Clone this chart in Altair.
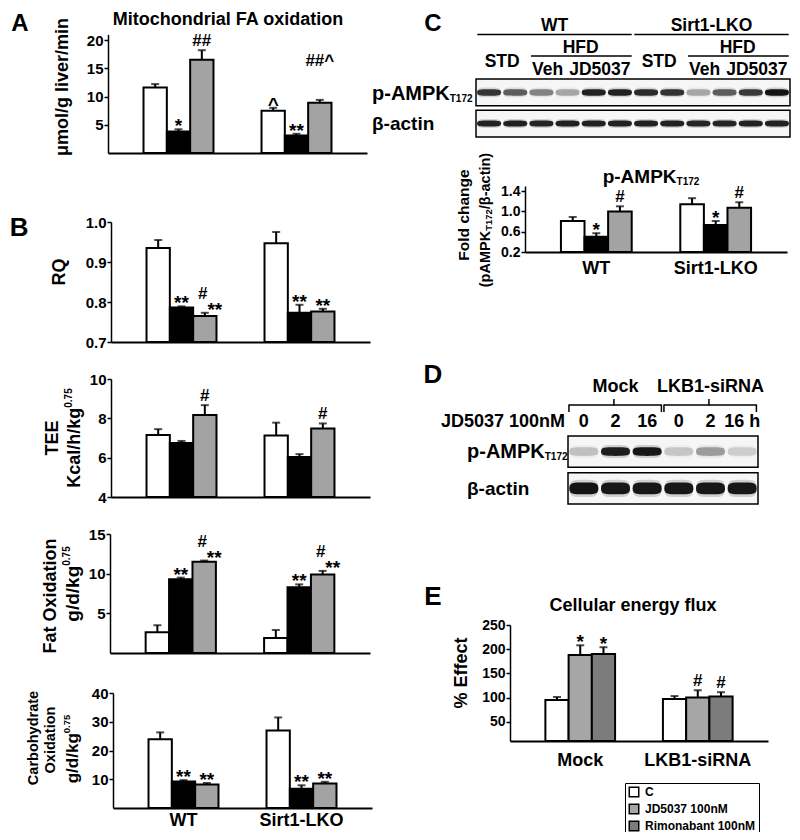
import altair as alt
import pandas as pd

FONT = "Liberation Sans"
W, H = 784, 824


def PX(v):
    """reference page x -> chart x (keeps the 8px page margin free)"""
    page = 8 + 0.8 * v if v < 40 else v
    return page - 8


def PY(v):
    """reference page y -> chart y"""
    if v < 40:
        page = 8 + 0.8 * v
    elif v > 800:
        page = 800 + 0.8 * (v - 800)
    else:
        page = v
    return page - 8


# ------------------------------------------------------------------ data
geno = ["WT", "Sirt1-LKO"]
treat = ["C", "Veh", "JD5037"]
treat_colors = ["#ffffff", "#000000", "#a3a3a3"]

# A  Mitochondrial FA oxidation
fa_val = [11.6, 3.8, 16.5, 7.5, 3.1, 8.9]
fa_err = [0.6, 0.4, 1.7, 0.5, 0.3, 0.5]
fa_low = ["", "*", "##", "^", "**", ""]
fa_high = ["", "", "", "", "", "##^"]

# B  RQ
rq_val = [0.935, 0.786, 0.765, 0.947, 0.773, 0.776]
rq_err = [0.020, 0.003, 0.008, 0.028, 0.020, 0.007]
rq_low = ["", "**", "", "", "**", "**"]
rq_side = ["", "", "**", "", "", ""]
rq_high = ["", "", "#", "", "", ""]

# B  TEE
tee_val = [7.15, 6.75, 8.17, 7.13, 6.03, 7.48]
tee_err = [0.30, 0.10, 0.50, 0.65, 0.15, 0.26]
tee_low = ["", "", "#", "", "", "#"]

# B  Fat oxidation
fat_val = [2.6, 9.3, 11.5, 1.9, 8.3, 9.9]
fat_err = [0.9, 0.2, 0.15, 1.0, 0.35, 0.45]
fat_low = ["", "**", "", "", "**", ""]
fat_side = ["", "", "**", "", "", "**"]
fat_high = ["", "", "#", "", "", "#"]

# B  Carbohydrate oxidation
cho_val = [23.9, 9.2, 8.2, 27.0, 6.7, 8.5]
cho_err = [2.4, 0.5, 0.5, 4.5, 1.2, 0.6]
cho_low = ["", "**", "**", "", "**", "**"]

# C  p-AMPK fold change
amp_val = [0.81, 0.50, 1.00, 1.14, 0.73, 1.07]
amp_err = [0.08, 0.07, 0.10, 0.12, 0.08, 0.11]
amp_low = ["", "*", "#", "", "*", "#"]

# E  Cellular energy flux
cell = ["Mock", "LKB1-siRNA"]
drug = ["C", "JD5037 100nM", "Rimonabant 100nM"]
drug_colors = ["#ffffff", "#a6a6a6", "#7c7c7c"]
flux_val = [95, 188, 190, 97, 100, 102]
flux_err = [6, 20, 14, 6, 15, 9]
flux_low = ["", "*", "*", "", "#", "#"]

# Blots (relative band intensity per lane)
blot_rows = ["p-AMPK", "β-actin"]
c_conditions = ["STD", "Veh", "JD5037"]          # two lanes each, per genotype
c_pampk = [0.80, 0.62, 0.45, 0.30, 0.90, 0.90, 0.85, 0.82, 0.30, 0.62, 0.78, 0.97]
c_actin = [0.90, 0.90, 0.88, 0.90, 0.90, 0.90, 0.90, 0.90, 0.88, 0.88, 0.90, 0.90]
d_time = ["0", "2", "16", "0", "2", "16 h"]
d_pampk = [0.20, 0.92, 0.95, 0.18, 0.35, 0.15]
d_actin = [0.97, 0.95, 0.95, 0.95, 0.95, 0.95]

# ------------------------------------------------------------------ helpers
AW = {"(": .333, ")": .333, "-": .333, ".": .278, "/": .278, " ": .278,
      "A": .722, "K": .722, "M": .833, "P": .667, "T": .611,
      "a": .556, "c": .556, "d": .611, "g": .611, "h": .611, "i": .278,
      "k": .556, "l": .278, "n": .611, "p": .611, "t": .333, "β": .611}


def tw(s, size):
    return sum(AW.get(ch, .556) for ch in s) * size


def txt(s, x, y, size, align="center", angle=0, dy=0):
    return alt.Chart(pd.DataFrame({"t": [s]})).mark_text(
        font=FONT, fontSize=size, fontWeight="bold", color="black",
        align=align, baseline="middle", angle=angle, dy=dy,
    ).encode(x=alt.value(PX(x)), y=alt.value(PY(y)), text="t:N")


def rot_parts(parts, xc, yc):
    total = sum(tw(t, s) for t, s, _ in parts)
    y = yc + total / 2
    out = []
    for t, s, d in parts:
        out.append(txt(t, xc, y, s, align="left", angle=270, dy=d))
        y -= tw(t, s)
    return out


def hor_parts(parts, x, yc, center=False):
    total = sum(tw(t, s) for t, s, _ in parts)
    if center:
        x -= total / 2
    out = []
    for t, s, d in parts:
        out.append(txt(t, x, yc, s, align="left", dy=d))
        x += tw(t, s)
    return out


def bar_panel(groups, cats, colors, vals, errs, low, side=None, high=None,
              x0=0, x1=0, yb=0, yt=0, domain=(0, 1), ticks=(), fmt="d",
              xlabels=False, tick_fs=15, xlab_pad=10, high_dy=-14, high_dx=-2,
              legend=None):
    empty = [""] * len(vals)
    df = pd.DataFrame({
        "g": [g for g in groups for _ in cats],
        "c": list(cats) * len(groups),
        "v": vals,
        "e": errs,
        "low": low,
        "side": side or empty,
        "high": high or empty,
    })
    df["top"] = df["v"] + df["e"]
    base = alt.Chart(df)
    x = alt.X("g:N", sort=groups, title=None,
              scale=alt.Scale(domain=groups, range=[PX(x0), PX(x1)],
                              paddingInner=0.407, paddingOuter=0.301),
              axis=alt.Axis(orient="bottom", offset=PY(yb) - H, labels=xlabels,
                            ticks=False, tickSize=0, domainColor="black",
                            domainWidth=2, labelFont=FONT, labelFontSize=18,
                            labelFontWeight="bold", labelColor="black",
                            labelPadding=xlab_pad, labelAngle=0, grid=False))
    xo = alt.XOffset("c:N", sort=cats,
                     scale=alt.Scale(domain=cats, paddingInner=0, paddingOuter=0))
    y = alt.Y("v:Q", title=None,
              scale=alt.Scale(domain=list(domain), range=[PY(yb), PY(yt)],
                              zero=False, nice=False),
              axis=alt.Axis(orient="left", offset=-PX(x0), values=list(ticks),
                            format=fmt, grid=False, domainColor="black",
                            domainWidth=1.5, tickColor="black", tickWidth=1.5,
                            tickSize=4, labelPadding=1, labelFont=FONT,
                            labelFontSize=tick_fs, labelFontWeight="bold",
                            labelColor="black"))
    fill = alt.Fill("c:N", sort=cats, scale=alt.Scale(domain=cats, range=colors),
                    legend=legend)
    bars = base.mark_bar(stroke="black", strokeWidth=2).encode(
        x=x, xOffset=xo, y=y, y2=alt.datum(domain[0]), fill=fill)
    err = base.mark_rule(color="black", strokeWidth=2).encode(
        x=x, xOffset=xo, y="v:Q", y2="top:Q")
    cap = base.mark_tick(color="black", thickness=2, size=8).encode(
        x=x, xOffset=xo, y="top:Q")

    def ann(field, dx, dy_star, dy_hash):
        out = []
        for has_hash, dy, fs in ((False, dy_star, 19), (True, dy_hash, 17)):
            test = ">=" if has_hash else "<"
            cond = f"datum.{field} != '' && indexof(datum.{field}, '#') {test} 0"
            out.append(base.transform_filter(cond).mark_text(
                font=FONT, fontSize=fs, fontWeight="bold", color="black",
                baseline="alphabetic", dx=dx, dy=dy,
            ).encode(x=x, xOffset=xo, y="top:Q", text=f"{field}:N"))
        return out

    texts = ann("low", 0, 3, -4) + ann("side", 10, 3, -4) + \
        ann("high", high_dx, high_dy, high_dy)
    return alt.layer(bars, err, cap, *texts)


def band_path(h):
    return (f"M-1,0 C-1,{-h} -0.75,{-h} 0,{-h} C0.75,{-h} 1,{-h} 1,0 "
            f"C1,{h} 0.75,{h} 0,{h} C-0.75,{h} -1,{h} -1,0 Z")


def xd(v):
    return alt.XDatum(v, axis=None)


def lane_text(s, lane, y, size, align="center", dx=0):
    return alt.Chart(pd.DataFrame({"t": [s]})).mark_text(
        font=FONT, fontSize=size, fontWeight="bold", color="black",
        align=align, baseline="middle", dx=dx,
    ).encode(x=xd(lane), y=alt.value(PY(y)), text="t:N")


def lane_rule(a, b, y):
    return alt.Chart(pd.DataFrame({"k": [0]})).mark_rule(
        color="black", strokeWidth=1.5).encode(
        x=xd(a), x2=alt.X2Datum(b), y=alt.value(PY(y)))


def lane_vrule(a, y1, y2):
    return alt.Chart(pd.DataFrame({"k": [0]})).mark_rule(
        color="black", strokeWidth=1.5).encode(
        x=xd(a), y=alt.value(PY(y1)), y2=alt.value(PY(y2)))


def blot_panel(rows, levels, x0, x1, y0, y1, pad, band_w, half_h, extra):
    n = len(levels[0])
    lanes = list(range(1, n + 1))
    xs = alt.Scale(domain=[0.5, n + 0.5], range=[PX(x0), PX(x1)], nice=False, zero=False)
    ys = alt.Scale(domain=rows, range=[PY(y0), PY(y1)], paddingInner=pad, paddingOuter=0)
    xenc = alt.X("lane:Q", scale=xs, axis=None)
    yenc = alt.Y("row:N", sort=rows, scale=ys, axis=None)
    df = pd.DataFrame({
        "row": [r for r in rows for _ in lanes],
        "lane": lanes * len(rows),
        "level": [v for vals in levels for v in vals],
    })
    box = alt.Chart(pd.DataFrame({"row": rows})).mark_rect(
        fill="#f6f6f6", stroke="black", strokeWidth=1.5).encode(
        x=xd(0.5), x2=alt.X2Datum(n + 0.5), y=yenc)
    op = alt.Opacity("level:Q", scale=alt.Scale(domain=[0, 1], range=[0, 1]), legend=None)
    layers = [box]
    for r, hh in zip(rows, half_h):
        sub = alt.Chart(df).transform_filter(alt.datum.row == r)
        layers.append(sub.mark_point(shape=band_path(round(hh * 1.5, 3)), filled=True,
                                     color="#555555", fillOpacity=0.25,
                                     size=band_w ** 2).encode(x=xenc, y=yenc, opacity=op))
        layers.append(sub.mark_point(shape=band_path(hh), filled=True, color="#0d0d0d",
                                     size=band_w ** 2).encode(x=xenc, y=yenc, opacity=op))
    return alt.layer(*layers, *[e(xs) if callable(e) else e for e in extra])


# ------------------------------------------------------------------ panels
layers = []

# A
layers.append(bar_panel(geno, treat, treat_colors, fa_val, fa_err, fa_low, high=fa_high,
                        x0=108, x1=367, yb=153, yt=33, domain=(0, 21),
                        ticks=(5, 10, 15, 20), high_dy=-34, high_dx=0))
# B
layers.append(bar_panel(geno, treat, treat_colors, rq_val, rq_err, rq_low, rq_side, rq_high,
                        x0=111, x1=370, yb=342, yt=222, domain=(0.7, 1.0),
                        ticks=(0.7, 0.8, 0.9, 1.0), fmt=".1f"))
layers.append(bar_panel(geno, treat, treat_colors, tee_val, tee_err, tee_low,
                        x0=111, x1=370, yb=497, yt=379, domain=(4, 10),
                        ticks=(4, 6, 8, 10)))
layers.append(bar_panel(geno, treat, treat_colors, fat_val, fat_err, fat_low, fat_side, fat_high,
                        x0=110, x1=370, yb=653, yt=534, domain=(0, 15),
                        ticks=(5, 10, 15)))
layers.append(bar_panel(geno, treat, treat_colors, cho_val, cho_err, cho_low,
                        x0=113, x1=372, yb=810, yt=693, domain=(0, 40),
                        ticks=(10, 20, 30, 40), xlabels=True, xlab_pad=3))
# C bars
layers.append(bar_panel(geno, treat, treat_colors, amp_val, amp_err, amp_low,
                        x0=525, x1=787, yb=252, yt=186, domain=(0.2, 1.5),
                        ticks=(0.2, 0.6, 1.0, 1.4), fmt=".1f", tick_fs=14,
                        xlabels=True, xlab_pad=7))
# E bars + legend
layers.append(bar_panel(cell, drug, drug_colors, flux_val, flux_err, flux_low,
                        x0=510, x1=768, yb=741, yt=625, domain=(10, 250),
                        ticks=(50, 100, 150, 200, 250), tick_fs=14,
                        xlabels=True, xlab_pad=10,
                        legend=alt.Legend(orient="none", legendX=PX(625), legendY=PY(783),
                                          title=None, symbolType="square", symbolSize=90,
                                          symbolStrokeColor="black", symbolStrokeWidth=1.5,
                                          labelFont=FONT, labelFontSize=12,
                                          labelFontWeight="bold", labelColor="black",
                                          strokeColor="black", fillColor="white",
                                          padding=3, rowPadding=1, labelOffset=5)))

# C blot headers
c_extra = []
for gi, g in enumerate(geno):
    b = gi * 6
    c_extra.append(lane_text(g, b + 3.5, 23, 17.5))
    c_extra.append(lane_rule(b + 0.55, b + 6.45, 33))
    c_extra.append(lane_text("HFD", b + 4.5, 48, 17.5))
    c_extra.append(lane_rule(b + 2.6, b + 6.45, 56))
    for ci, cnd in enumerate(c_conditions):
        c_extra.append(lane_text(cnd, b + 2 * ci + 1.5, 62 if ci == 0 else 70, 17.5,
                                 dx=0 if ci == 0 else -7))
layers.append(blot_panel(blot_rows, [c_pampk, c_actin], 476, 790, 79, 137, 0.14,
                         24, [0.27, 0.25], c_extra))

# D blot headers
d_extra = []
for ci, cname in enumerate(cell):
    b = ci * 3
    d_extra.append(lane_text(cname, b + 2, 387, 18))
    d_extra.append(lane_rule(b + 0.53, b + 3.45, 405))
    d_extra.append(lane_vrule(b + 0.53, 404.5, 412))
    d_extra.append(lane_vrule(b + 3.45, 404.5, 412))
    d_extra.append(lane_vrule(b + 1.95, 405.5, 399))
d_extra.append(lane_text("JD5037 100nM", 0.5, 422, 18, align="right", dx=-3))
d_extra.append(lambda xs: alt.Chart(pd.DataFrame({"lane": list(range(1, 7)), "t": d_time}))
               .mark_text(font=FONT, fontSize=18, fontWeight="bold", color="black",
                          baseline="middle")
               .encode(x=alt.X("lane:Q", scale=xs, axis=None), y=alt.value(PY(422)),
                       text="t:N"))
layers.append(blot_panel(blot_rows, [d_pampk, d_actin], 568, 758, 436, 504, 0.15,
                         29, [0.3, 0.4], d_extra))

# ------------------------------------------------------------------ text
texts = [
    txt("A", 15, 20, 24), txt("B", 14, 228, 26), txt("C", 433, 20, 24),
    txt("D", 433, 375, 26), txt("E", 433, 597, 26),
    txt("Mitochondrial FA oxidation", 228, 15, 18),
    txt("μmol/g liver/min", 63, 87, 18, angle=270),
    txt("RQ", 60, 272, 18, angle=270),
    txt("TEE", 53, 438, 18, angle=270),
    txt("Fat Oxidation", 51, 596, 18, angle=270),
    txt("Carbohydrate", 32, 738, 14.5, angle=270),
    txt("Oxidation", 51, 740, 14.5, angle=270),
    txt("Fold change", 464, 215, 15.5, angle=270),
    txt("β-actin", 372, 124, 19, align="left"),
    txt("β-actin", 467, 489, 19, align="left"),
    txt("Cellular energy flux", 633, 606, 18),
    txt("% Effect", 462, 673, 18, angle=270),
]
texts += rot_parts([("Kcal/h/kg", 18, 0), ("0.75", 10, -6)], 75, 438)
texts += rot_parts([("g/d/kg", 19, 0), ("0.75", 10, -6)], 73, 584)
texts += rot_parts([("g/d/kg", 17, 0), ("0.75", 9.5, -6)], 73, 749)
texts += rot_parts([("(pAMPK", 14.5, 0), ("T172", 9.5, 3), ("/β-actin)", 14.5, 0)], 486, 220)
texts += hor_parts([("p-AMPK", 19, 0), ("T172", 10, 5)], 651, 177, center=True)
texts += hor_parts([("p-AMPK", 20, 0), ("T172", 10, 5)], 372, 94)
texts += hor_parts([("p-AMPK", 20, 0), ("T172", 10, 5)], 467, 452)

chart = (
    alt.layer(*layers, *texts)
    .resolve_scale(x="independent", y="independent", xOffset="independent",
                   fill="independent", opacity="independent")
    .resolve_axis(x="independent", y="independent")
    .resolve_legend(fill="independent", opacity="independent")
    .properties(width=W, height=H, autosize=alt.AutoSizeParams(type="none"),
                padding=0, background="white")
    .configure_view(stroke=None)
)

chart.save("out.html", embed_options={"renderer": "svg", "actions": False})
